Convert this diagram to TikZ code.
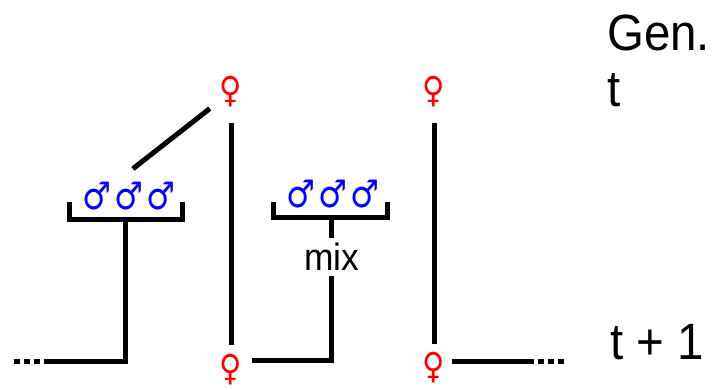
\documentclass[tikz,border=0pt]{standalone}
\usepackage{fontspec}
\setmainfont[FakeStretch=0.93]{Liberation Sans}
\newfontfamily\symfont[FakeStretch=0.85]{DejaVu Sans}
\usetikzlibrary{positioning}

\begin{document}
\begin{tikzpicture}[
		x=1pt, y=-1pt,
		link/.style={draw, line width=5pt},
		dots/.style={draw, line width=5pt, dash pattern=on 6pt off 4pt},
		female/.style={text=red, inner sep=0pt, minimum width=42pt, minimum height=40pt, font=\symfont\fontsize{36}{36}\selectfont},
		male/.style={text=blue, inner sep=0pt, minimum width=32pt, minimum height=54pt, font=\symfont\fontsize{38}{38}\selectfont},
		label/.style={inner sep=0pt, anchor=west, font=\fontsize{51}{51}\selectfont},
	]
		\useasboundingbox (0,0) rectangle (724,390);
		\node[female] (fa) at (231,92) {♀};
		\node[female] (fb) at (434,92) {♀};
		\node[female] (fc) at (231,370) {♀};
		\node[female] (fd) at (434,368) {♀};

		\node[male] (ma2) at (129,196) {♂};
		\node[male, left=0pt of ma2] (ma1) {♂};
		\node[male, right=0pt of ma2] (ma3) {♂};
		\node[male] (mb2) at (333,194) {♂};
		\node[male, left=0pt of mb2] (mb1) {♂};
		\node[male, right=0pt of mb2] (mb3) {♂};

		\node[inner sep=0pt, minimum height=38pt, font=\fontsize{38}{38}\selectfont] (mix) at (332,257) {mix};
		\node[label] (gen) at (607,33) {Gen.};
		\node[label] (tnow) at (607,90) {t};
		\node[label] (tnext) at (610,342) {t + 1};

		\coordinate (bka) at (125.5,219.5);
		\coordinate (bkal) at (69,202);
		\coordinate (bkar) at (182,202);
		\coordinate (bkb) at (331,218);
		\coordinate (bkbl) at (273,202);
		\coordinate (bkbr) at (387,202);
		\coordinate (endl) at (50,361.5);
		\coordinate (endll) at (13,361.5);
		\coordinate (endr) at (528,362);
		\coordinate (endrr) at (564,362);

		\draw[link] (fa.218) -- (ma2.82);
		\draw[link, shorten <=11pt, shorten >=5pt] (fa.south) -- (fc.north);
		\draw[link, shorten <=11pt, shorten >=4pt] (fb.south) -- (fd.north);
		\draw[link] (bkal) |- (bka) -| (bkar);
		\draw[link] (bkbl) |- (bkb) -| (bkbr);
		\draw[link] (bka) |- (endl);
		\draw[dots] (endl) -- (endll);
		\draw[link] (bkb) -- (bkb|-mix.north);
		\draw[link] (bkb|-mix.south) |- (fc.23);
		\draw[link, shorten <=-3pt] (fd.east|-endr) -- (endr);
		\draw[dots] (endr) -- (endrr);
	\end{tikzpicture}
\end{document}
